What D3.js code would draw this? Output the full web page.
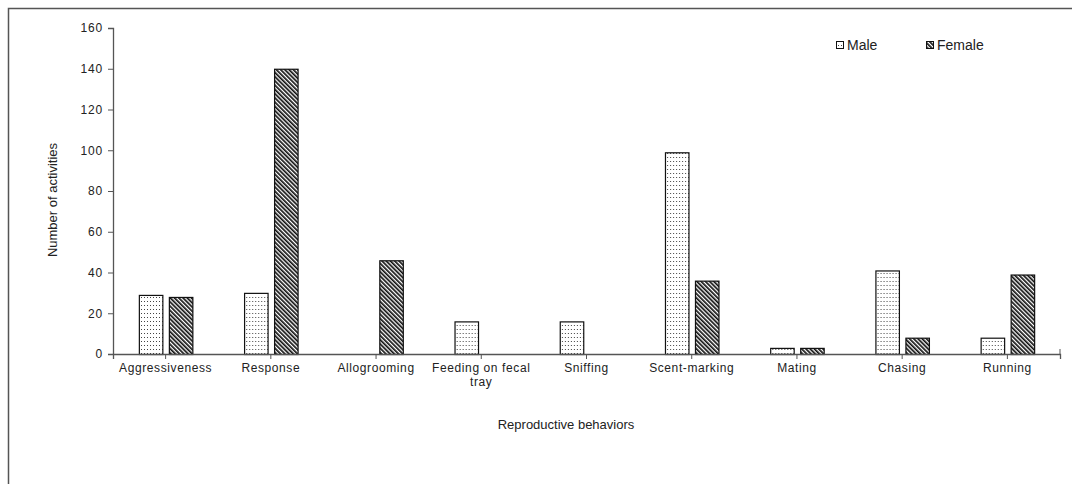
<!DOCTYPE html>
<html><head><meta charset="utf-8">
<script src="https://cdn.jsdelivr.net/npm/d3@7"></script>
<style>body{margin:0;background:#fff}svg{display:block;font-family:"Liberation Sans",Arial,sans-serif}</style>
</head><body><svg id="c" width="1072" height="484"></svg>
<script>
const categories = ["Aggressiveness","Response","Allogrooming","Feeding on fecal|tray","Sniffing","Scent-marking","Mating","Chasing","Running"];
const series = ["Male","Female"];
const maleValues = [29,30,0,16,16,99,3,41,8];
const femaleValues = [28,140,46,0,0,36,3,8,39];
const yTicks = [0,20,40,60,80,100,120,140,160];

const svg = d3.select("#c");
const defs = svg.append("defs");
const pd = defs.append("pattern").attr("id","dots").attr("patternUnits","userSpaceOnUse").attr("width",3).attr("height",4);
pd.append("rect").attr("width",3).attr("height",4).attr("fill","#fff");
pd.append("rect").attr("x",1).attr("y",1).attr("width",1).attr("height",1).attr("fill","#444");
const ps = defs.append("pattern").attr("id","stripes").attr("patternUnits","userSpaceOnUse").attr("width",3).attr("height",3).attr("patternTransform","rotate(-45)");
ps.append("rect").attr("width",3).attr("height",3).attr("fill","#fff");
ps.append("rect").attr("width",1.7).attr("height",3).attr("fill","#111");
const fills = {Male:"url(#dots)", Female:"url(#stripes)"};

// frame
svg.append("path").attr("d","M8.5,484 V8.5 H1072").attr("fill","none").attr("stroke","#555").attr("stroke-width",1.5);

const x0 = d3.scaleBand().domain(categories).range([113,1060]).paddingInner(0).paddingOuter(0);
const x1 = d3.scaleBand().domain(series).range([0,x0.bandwidth()]).paddingInner(0.217).paddingOuter(0.862);
const y = d3.scaleLinear().domain([0,160]).range([354,28]);

const data = categories.map((c,i)=>({c, vals:[{s:"Male",v:maleValues[i]},{s:"Female",v:femaleValues[i]}]}));
const g = svg.append("g");
g.selectAll("g.cat").data(data).join("g").attr("class","cat")
 .attr("transform",d=>`translate(${x0(d.c)},0)`)
 .selectAll("rect").data(d=>d.vals.filter(e=>e.v>0)).join("rect")
 .attr("x",e=>x1(e.s)+0.5).attr("width",x1.bandwidth())
 .attr("y",e=>y(e.v)+0.5).attr("height",e=>y(0)-y(e.v))
 .attr("fill",e=>fills[e.s]).attr("stroke","#111").attr("stroke-width",1.2);

// y axis
const ya = svg.append("g").attr("transform","translate(113,0)")
 .call(d3.axisLeft(y).tickValues(yTicks).tickSize(5).tickPadding(5).tickFormat(d3.format("d")));
ya.select(".domain").attr("stroke","#555").attr("stroke-width",1.3);
ya.selectAll(".tick line").attr("stroke","#555");
ya.selectAll("text").attr("font-size",12).attr("fill","#222").attr("letter-spacing","0.8px").attr("font-family","Liberation Sans, Arial");

// x axis
const xa = svg.append("g").attr("transform","translate(0,354)")
 .call(d3.axisBottom(x0).tickSize(5).tickSizeOuter(5).tickFormat(""));
xa.select(".domain").attr("stroke","#555").attr("stroke-width",1.3);
xa.selectAll(".tick line").attr("stroke","#555");
xa.append("line").attr("x1",1060).attr("x2",1060).attr("y1",-5).attr("y2",0).attr("stroke","#555");

const lbl = svg.append("g");
categories.forEach(c=>{
  const parts = c.split("|");
  const t = lbl.append("text").attr("x",x0(c)+x0.bandwidth()/2).attr("y",372)
    .attr("text-anchor","middle").attr("font-size",12).attr("fill","#222").attr("letter-spacing","0.6px");
  parts.forEach((p,i)=>t.append("tspan").attr("x",x0(c)+x0.bandwidth()/2).attr("dy",i?14:0).text(p));
});

svg.append("text").attr("x",566).attr("y",429).attr("text-anchor","middle").attr("font-size",13).attr("fill","#222").text("Reproductive behaviors");
svg.append("text").attr("transform","translate(57,200) rotate(-90)").attr("text-anchor","middle").attr("font-size",13).attr("fill","#222").text("Number of activities");

// legend
const leg = svg.append("g");
const legX = [836, 926];
series.forEach((s,i)=>{
  leg.append("rect").attr("x",legX[i]+0.5).attr("y",41.5).attr("width",7).attr("height",7).attr("fill",fills[s]).attr("stroke","#111");
  leg.append("text").attr("x",legX[i]+11).attr("y",50).attr("font-size",14).attr("fill","#222").text(s);
});
</script></body></html>
